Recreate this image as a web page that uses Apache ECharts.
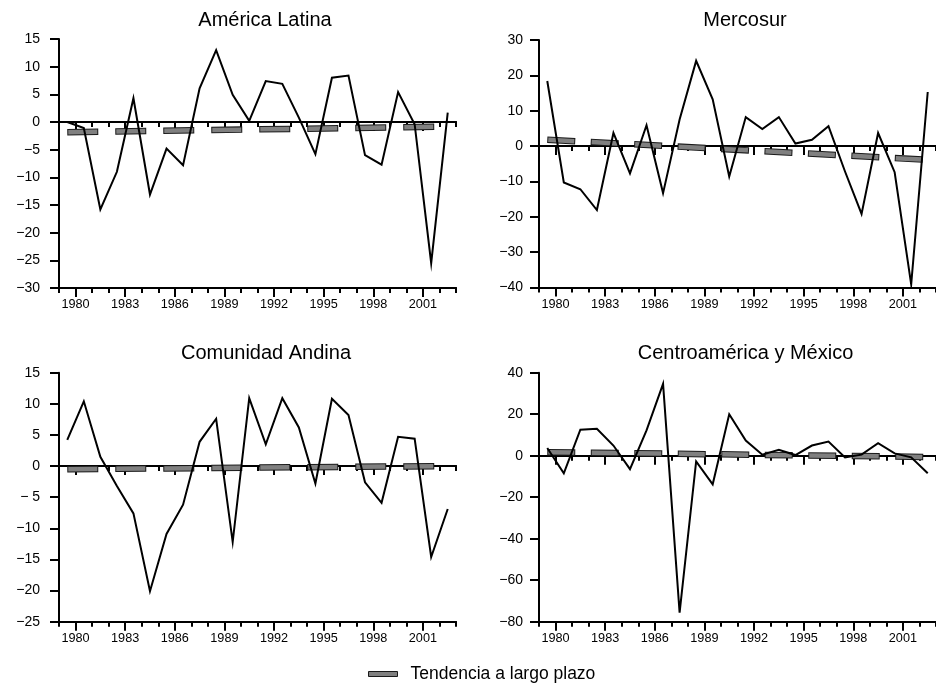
<!DOCTYPE html>
<html>
<head>
<meta charset="utf-8">
<script src="https://cdn.jsdelivr.net/npm/echarts@6/dist/echarts.min.js"></script>
<style>
html,body{margin:0;padding:0;background:#fff}
#c{width:936px;height:683px}
</style>
</head>
<body>
<div id="c"></div>
<script>
// ---------- DATA ----------
const years = [1979,1980,1981,1982,1983,1984,1985,1986,1987,1988,1989,1990,1991,1992,1993,1994,1995,1996,1997,1998,1999,2000,2001,2002];
const labelYears = [1980,1983,1986,1989,1992,1995,1998,2001];
const titles = ['América Latina','Mercosur','Comunidad Andina','Centroamérica y México'];
const trendName = 'Tendencia a largo plazo';

const latina   = [0, -1.1, -15.8, -9.0, 4.3, -13.1, -4.8, -7.8, 6.1, 13.0, 4.9, 0.2, 7.4, 6.9, 0.8, -5.8, 8.0, 8.4, -6.0, -7.7, 5.4, -0.4, -25.5, 1.7];
const mercosur = [18.4, -10.3, -12.2, -18.1, 3.7, -7.7, 5.9, -13.3, 7.5, 24.1, 13.2, -8.6, 8.2, 4.8, 8.2, 0.7, 1.8, 5.6, -7.2, -19.2, 3.7, -7.4, -39.1, 15.3];
const andina   = [4.2, 10.4, 1.5, -3.2, -7.6, -20.1, -10.9, -6.2, 3.9, 7.6, -12.2, 10.9, 3.5, 10.9, 6.2, -2.8, 10.8, 8.2, -2.6, -5.9, 4.7, 4.4, -14.6, -6.9];
const centro   = [3.7, -8.5, 12.5, 13.0, 4.9, -6.5, 12.2, 34.6, -75.6, -2.8, -13.8, 20.0, 7.3, 0.5, 2.8, 0.3, 4.9, 6.8, -0.8, 0.5, 6.0, 1.1, -0.8, -8.5];

// long-term trend: value at first and last year
const trendLatina   = [-1.85, -0.82];
const trendMercosur = [1.8, -3.9];
const trendAndina   = [-0.5, 0.0];
const trendCentro   = [1.7, -0.6];

// y-axis ranges
const yMins  = [-30, -40, -25, -80];
const yMaxs  = [15, 30, 15, 40];
const ySteps = [5, 10, 5, 20];

// ---------- LAYOUT / STYLE ----------
const FONT = "'Liberation Sans', Arial, Helvetica, sans-serif";
const series4 = [latina, mercosur, andina, centro];
const trends4 = [trendLatina, trendMercosur, trendAndina, trendCentro];
const grids = [
  {left:59,  top:39,    width:397, height:249},
  {left:539, top:40,    width:397, height:247.5},
  {left:59,  top:372.7, width:397, height:249},
  {left:539, top:372.7, width:397, height:249}
];
const titlePos = [[260, 5], [740, 5.5], [261, 338], [740.5, 338]];
const yLabelMargin = [19, 16, 19, 16];
const dashPat = [[31, 17], [28, 15.5], [31, 17], [28, 15.5]];

const black = '#000';
const axisLineStyle = {color: black, width: 2};

function yFormatter(i) {
  return function (v) {
    if (v < 0) {
      if (i === 2 && v === -5) return '\u2212 5';
      return '\u2212' + Math.abs(v);
    }
    return String(v);
  };
}

const xAxis = [], yAxis = [], series = [], title = [];
for (let i = 0; i < 4; i++) {
  const base = {type:'value', gridIndex:i, min:years[0], max:years[years.length-1] + 1, interval:1,
                splitLine:{show:false}, position:'bottom'};
  // bottom axis with minor ticks and labels
  xAxis.push(Object.assign({}, base, {
    axisLine:{show:true, onZero:false, lineStyle:axisLineStyle},
    axisTick:{show:true, length:5, lineStyle:{color:black, width:2}},
    axisLabel:{show:true, customValues:labelYears, formatter:v => String(v),
               fontSize:12.7, margin:10, color:black, fontFamily:FONT}
  }));
  // bottom axis major ticks
  xAxis.push(Object.assign({}, base, {
    axisLine:{show:true, onZero:false, lineStyle:axisLineStyle},
    axisTick:{show:true, customValues:labelYears, length:9, lineStyle:{color:black, width:2}},
    axisLabel:{show:false}
  }));
  // zero line minor ticks
  xAxis.push(Object.assign({}, base, {
    axisLine:{show:true, onZero:true, onZeroAxisIndex:i, lineStyle:axisLineStyle},
    axisTick:{show:true, length:5, lineStyle:{color:black, width:2}},
    axisLabel:{show:false}
  }));
  // zero line major ticks
  xAxis.push(Object.assign({}, base, {
    axisLine:{show:true, onZero:true, onZeroAxisIndex:i, lineStyle:axisLineStyle},
    axisTick:{show:true, customValues:labelYears, length:9, lineStyle:{color:black, width:2}},
    axisLabel:{show:false}
  }));

  yAxis.push({
    type:'value', gridIndex:i, min:yMins[i], max:yMaxs[i], interval:ySteps[i],
    splitLine:{show:false},
    axisLine:{show:true, onZero:false, lineStyle:axisLineStyle},
    axisTick:{show:true, length:9, lineStyle:{color:black, width:2}},
    axisLabel:{fontSize:14, color:black, margin:yLabelMargin[i], fontFamily:FONT, formatter:yFormatter(i)}
  });

  const tr = trends4[i];
  const trendData = [[years[0] + 0.5, tr[0]], [years[years.length-1] + 0.5, tr[1]]];
  const dp = dashPat[i];
  series.push({
    type:'line', name:'trend-outline-' + i, xAxisIndex:4*i, yAxisIndex:i,
    data:trendData, symbol:'none', silent:true, z:2, animation:false,
    lineStyle:{color:'#1a1a1a', width:6.5, type:[dp[0], dp[1]], cap:'butt'}
  });
  series.push({
    type:'line', name:trendName, xAxisIndex:4*i, yAxisIndex:i,
    data:trendData, symbol:'none', silent:true, z:3, animation:false,
    lineStyle:{color:'#808080', width:4.5, type:[dp[0]-2, dp[1]+2], dashOffset:-1, cap:'butt'}
  });
  series.push({
    type:'line', name:titles[i], xAxisIndex:4*i, yAxisIndex:i,
    data:years.map((y, k) => [y + 0.5, series4[i][k]]),
    symbol:'none', silent:true, z:4, animation:false,
    lineStyle:{color:black, width:2, join:'miter'}
  });

  title.push({
    text:titles[i], left:titlePos[i][0], top:titlePos[i][1], textAlign:'center',
    textStyle:{fontSize:20, fontWeight:'normal', color:black, fontFamily:FONT}
  });
}

const option = {
  animation:false,
  backgroundColor:'#fff',
  textStyle:{fontFamily:FONT},
  title:title,
  grid:grids,
  xAxis:xAxis,
  yAxis:yAxis,
  legend:{
    data:[{name:trendName, icon:'rect', itemStyle:{color:'#808080', borderColor:'#1a1a1a', borderWidth:1}}],
    left:368, top:665, padding:0, itemWidth:29, itemHeight:5, selectedMode:false,
    textStyle:{fontSize:17.5, color:black, fontFamily:FONT, padding:[0,0,0,8]}
  },
  series:series
};
const chart = echarts.init(document.getElementById('c'), null, {renderer:'canvas'});
chart.setOption(option);
</script>
</body>
</html>
